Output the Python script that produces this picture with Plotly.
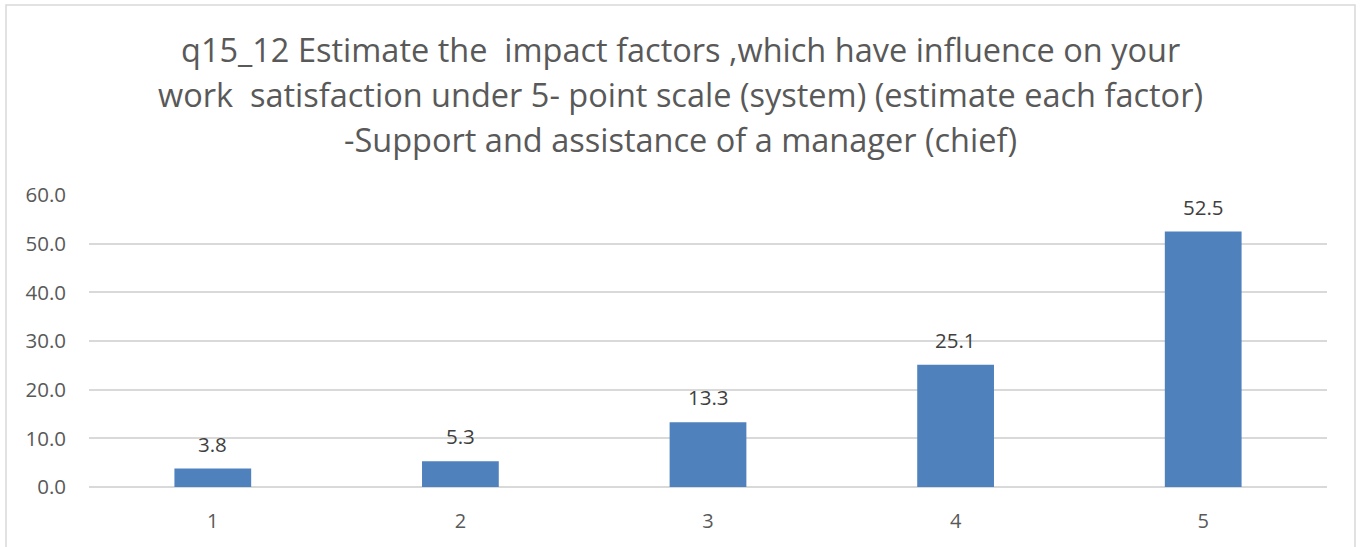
import plotly.graph_objects as go

# Survey results: share of respondents (%) per rating on the 5-point scale
categories = ["1", "2", "3", "4", "5"]
values = [3.8, 5.3, 13.3, 25.1, 52.5]
y_ticks = [0, 10, 20, 30, 40, 50, 60]

title_lines = [
    "q15_12 Estimate the  impact factors ,which have influence on your",
    "work  satisfaction under 5- point scale (system) (estimate each factor)",
    "-Support and assistance of a manager (chief)",
]

FONT = "Open Sans, Calibri, sans-serif"
TEXT_GREY = "#595959"
LABEL_GREY = "#404040"
BAR_BLUE = "#4f81bd"
GRID = "#d9d9d9"

W, H = 1360, 547
L, R, T, B = 89, 33, 195, 60
plot_w = W - L - R
plot_h = H - T - B

fig = go.Figure(
    go.Bar(
        x=list(range(len(categories))),
        y=values,
        marker=dict(color=BAR_BLUE, line=dict(color=BAR_BLUE, width=0)),
        width=0.31,
        hoverinfo="y",
    )
)

annotations = []
# value labels above each bar
for i, v in enumerate(values):
    annotations.append(
        dict(
            x=i, y=v, xref="x", yref="y",
            text=f"{v:.1f}", showarrow=False,
            yanchor="bottom", yshift=9,
            font=dict(family=FONT, size=20.5, color=LABEL_GREY),
        )
    )

# three-line chart title, centred over the figure
title_centres = [50, 95, 139]
for line, yc in zip(title_lines, title_centres):
    annotations.append(
        dict(
            x=(W / 2 - L) / plot_w, y=1 + (T - yc) / plot_h,
            xref="paper", yref="paper",
            text=line, showarrow=False,
            xanchor="center", yanchor="middle",
            font=dict(family=FONT, size=32.5, color=TEXT_GREY),
        )
    )

# light chart-area border
x_left = (6 - L) / plot_w
x_right = (1355 - L) / plot_w
y_top = 1 + (T - 5) / plot_h
y_bot = 1 + (T - 560) / plot_h
shapes = [
    dict(type="rect", xref="paper", yref="paper",
         x0=x_left, x1=x_right, y0=y_bot, y1=y_top,
         line=dict(color=GRID, width=1.5), fillcolor="rgba(0,0,0,0)", layer="below"),
]

fig.update_layout(
    width=W, height=H,
    margin=dict(l=L, r=R, t=T, b=B),
    paper_bgcolor="white",
    plot_bgcolor="white",
    showlegend=False,
    annotations=annotations,
    shapes=shapes,
    font=dict(family=FONT, color=TEXT_GREY),
)

fig.update_xaxes(
    range=[-0.5, len(categories) - 0.5],
    tickvals=list(range(len(categories))),
    ticktext=categories,
    showgrid=False,
    showline=False,
    zeroline=False,
    ticks="",
    ticklabelstandoff=20,
    tickfont=dict(family=FONT, size=20, color=TEXT_GREY),
)

fig.update_yaxes(
    range=[0, 60],
    tickvals=y_ticks,
    tickformat=".1f",
    showgrid=True,
    gridcolor=GRID,
    gridwidth=1.5,
    zeroline=True,
    zerolinecolor=GRID,
    zerolinewidth=1.5,
    showline=False,
    ticks="",
    ticklabelstandoff=22,
    tickfont=dict(family=FONT, size=20.5, color=TEXT_GREY),
)

fig.write_html("out.html")
